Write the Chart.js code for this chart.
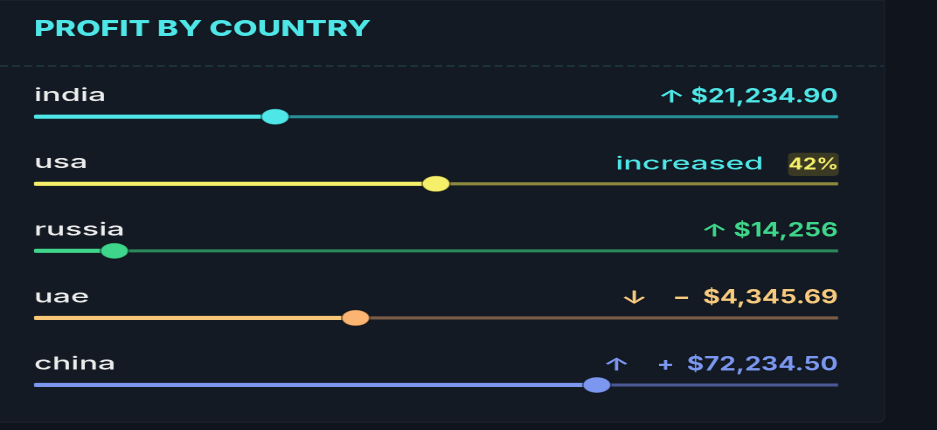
<!DOCTYPE html>
<html><head><meta charset="utf-8">
<script src="https://cdn.jsdelivr.net/npm/chart.js@4"></script>
<style>
html,body{margin:0;padding:0;background:#10151d;overflow:hidden}
canvas{display:block}
</style></head><body>
<canvas id="c" width="536" height="430" style="width:937px;height:430px"></canvas>
<script>
// ---- data ----
const titleText = 'PROFIT BY COUNTRY';
const categories = ['india', 'usa', 'russia', 'uae', 'china'];
const shareValues = [30, 50, 10, 40, 70];
const trackValues = [100, 100, 100, 100, 100];
const amountLabels = ['$21,234.90', 'increased', '$14,256', '\u2212  $4,345.69', '+  $72,234.50'];
const trendArrows = ['\u2191', '', '\u2191', '\u2193', '\u2191'];
const badgeLabels = ['', '42%', '', '', ''];

// ---- styles ----
const fillColors = ['#4fe6e8', '#f6ef6a', '#3fd58b', '#f8c878', '#7b97f0'];
const knobColors = ['#4fe6e8', '#f6ef6a', '#3fd58b', '#fbb472', '#7b97f0'];
const restColors = ['#2a8e98', '#8d893f', '#2b8a5c', '#7b5c47', '#4b5a97'];
const textColors = ['#4fe6e8', '#4fe6e8', '#3fd58b', '#f6ca7f', '#7b97f0'];
const arrowGaps = [3, 0, 3, 14, 15];
const FONT = 'Inter, "DejaVu Sans", sans-serif';

function drawScaled(ctx, str, xRight, yBase, font, color, sx) {
  ctx.save();
  ctx.font = font; ctx.fillStyle = color;
  ctx.textAlign = 'right'; ctx.textBaseline = 'alphabetic';
  ctx.shadowColor = 'rgba(0,0,0,0.6)'; ctx.shadowBlur = 2;
  ctx.translate(xRight, yBase); ctx.scale(sx, 1);
  ctx.fillText(str, 0, 0);
  const w = ctx.measureText(str).width * sx;
  ctx.restore();
  return xRight - w;
}

const decoPlugin = {
  id: 'deco',
  beforeDraw(chart) {
    const ctx = chart.ctx;
    const W = chart.width, H = chart.height;
    ctx.save();
    ctx.fillStyle = '#10151d';
    ctx.fillRect(0, 0, W, H);
    // card
    const cw = 506.3, ch = 422.7;
    ctx.beginPath();
    ctx.moveTo(0, 0); ctx.lineTo(cw, 0); ctx.lineTo(cw, ch - 6);
    ctx.quadraticCurveTo(cw, ch, cw - 4, ch); ctx.lineTo(0, ch); ctx.closePath();
    ctx.fillStyle = '#1a212b';
    ctx.fill();
    ctx.beginPath();
    ctx.moveTo(0, 1); ctx.lineTo(cw - 0.8, 1); ctx.lineTo(cw - 0.8, ch - 7);
    ctx.quadraticCurveTo(cw - 0.8, ch - 1.5, cw - 4.5, ch - 1.5); ctx.lineTo(0, ch - 1.5); ctx.closePath();
    ctx.fillStyle = '#131a23';
    ctx.fill();
    // dashed separator
    ctx.beginPath();
    ctx.setLineDash([4.6, 2.3]);
    ctx.strokeStyle = '#1f3a44';
    ctx.lineWidth = 1.6;
    ctx.moveTo(0, 66); ctx.lineTo(cw - 1, 66);
    ctx.stroke();
    ctx.setLineDash([]);
    ctx.restore();
    // title
    ctx.save();
    ctx.font = '800 22px ' + FONT;
    ctx.fillStyle = '#4fe6e8';
    ctx.textAlign = 'left'; ctx.textBaseline = 'alphabetic';
    ctx.shadowColor = 'rgba(0,0,0,0.6)'; ctx.shadowBlur = 2;
    ctx.translate(chart.chartArea.left, 36); ctx.scale(0.83, 1);
    ctx.fillText(titleText, 0, 0);
    ctx.restore();
  },
  afterDatasetsDraw(chart) {
    const ctx = chart.ctx;
    const xs = chart.scales.x, ys = chart.scales.y;
    const R = xs.getPixelForValue(100);
    categories.forEach((c, i) => {
      const y = ys.getPixelForValue(i);
      const base = y - 14.4;
      if (badgeLabels[i]) {
        const bl = R - 28.6, bt = y - 31.1, bw = 29, bh = 23.3;
        ctx.save();
        ctx.fillStyle = '#3a3923';
        ctx.beginPath();
        ctx.roundRect(bl, bt, bw, bh, 3);
        ctx.fill();
        ctx.font = '700 16px ' + FONT;
        ctx.fillStyle = '#f6ef6a';
        ctx.textAlign = 'center'; ctx.textBaseline = 'alphabetic';
        ctx.translate(bl + bw / 2, y - 14.5); ctx.scale(0.77, 1);
        ctx.fillText(badgeLabels[i], 0, 0);
        ctx.restore();
        drawScaled(ctx, amountLabels[i], bl - 14, base, '500 18px ' + FONT, textColors[i], 1.0);
      } else {
        const left = drawScaled(ctx, amountLabels[i], R, base, '700 19.5px ' + FONT, textColors[i], 0.77);
        if (trendArrows[i]) {
          drawScaled(ctx, trendArrows[i], left - arrowGaps[i], base, '600 18px ' + FONT, textColors[i], 1.0);
        }
      }
    });
  }
};

new Chart(document.getElementById('c'), {
  type: 'bar',
  data: {
    labels: categories,
    datasets: [
      {
        type: 'line', indexAxis: 'y', data: shareValues, showLine: false,
        pointRadius: 8, pointHoverRadius: 8,
        pointBackgroundColor: knobColors, pointBorderColor: 'rgba(4,7,12,0.45)', pointBorderWidth: 1,
        order: 0, clip: false
      },
      {
        data: shareValues, backgroundColor: fillColors, barThickness: 3.5,
        borderRadius: 2, borderSkipped: false, grouped: false, order: 1
      },
      {
        data: trackValues, backgroundColor: restColors, barThickness: 2.4,
        grouped: false, order: 2
      }
    ]
  },
  options: {
    indexAxis: 'y',
    responsive: false,
    animation: false,
    devicePixelRatio: 2,
    events: [],
    layout: { padding: { left: 19.45, right: 56.6, top: 83.2, bottom: 11.5 } },
    scales: {
      x: { type: 'linear', min: 0, max: 100, display: false },
      y: {
        type: 'category', offset: true,
        grid: { display: false, drawTicks: false },
        border: { display: false },
        ticks: {
          mirror: true, padding: 0, labelOffset: -21,
          color: '#ececec', font: { family: 'Inter', size: 18, weight: 500 }
        }
      }
    },
    plugins: { legend: { display: false }, tooltip: { enabled: false }, title: { display: false } }
  },
  plugins: [decoPlugin]
});
</script>
</body></html>
